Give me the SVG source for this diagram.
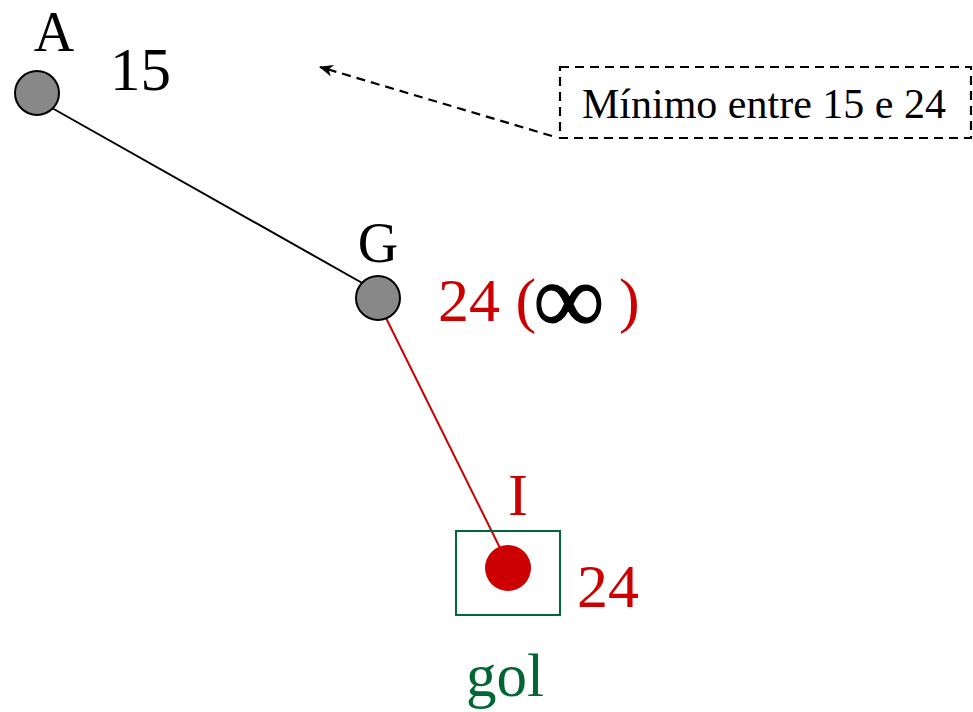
<svg xmlns="http://www.w3.org/2000/svg" width="973" height="712" viewBox="0 0 973 712">
<style>
.t{font-family:'Liberation Serif','DejaVu Serif',serif}
.node{fill:#888;stroke:#000;stroke-width:2}
.red{fill:#cc0000}
.grn{fill:#006633}
</style>
<defs>
<marker id="ah" viewBox="0 0 14 12" refX="13" refY="6" markerWidth="14" markerHeight="12" markerUnits="userSpaceOnUse" orient="auto">
<path d="M0,0 L14,6 L0,12 L4,6 Z" fill="#000"/>
</marker>
</defs>
<rect width="973" height="712" fill="#fff"/>
<g id="connectors">
<line x1="52" y1="108" x2="364" y2="284" stroke="#000" stroke-width="2"/>
<line x1="386" y1="318" x2="500" y2="548" stroke="#cc0000" stroke-width="2"/>
<line x1="552" y1="136" x2="320" y2="67" stroke="#000" stroke-width="2.2" stroke-dasharray="9,6" marker-end="url(#ah)"/>
</g>
<g id="A">
<circle class="node" cx="37" cy="93" r="22"/>
<text class="t" x="54" y="51" text-anchor="middle" font-size="56">A</text>
<text class="t" x="110" y="90" font-size="61">15</text>
</g>
<g id="G">
<circle class="node" cx="378" cy="298" r="22"/>
<text class="t" x="378" y="262" text-anchor="middle" font-size="56">G</text>
<text class="t red" x="438" y="321" font-size="62">24 (</text>
<text class="t" x="569" y="333" text-anchor="middle" font-size="100" stroke="#000" stroke-width="1.2">∞</text>
<text class="t red" x="619" y="321" font-size="62">)</text>
</g>
<g id="I">
<rect x="456" y="531" width="104" height="84" fill="none" stroke="#006633" stroke-width="2"/>
<circle cx="508" cy="568" r="23" fill="#cc0000"/>
<text class="t red" x="518" y="515" text-anchor="middle" font-size="60">I</text>
<text class="t red" x="577" y="607" font-size="62">24</text>
<text class="t grn" x="505" y="696" text-anchor="middle" font-size="61">gol</text>
</g>
<g id="note">
<rect x="560" y="67" width="411" height="71" fill="none" stroke="#000" stroke-width="2.2" stroke-dasharray="9,6"/>
<text class="t" x="582" y="118" font-size="42">Mínimo entre 15 e 24</text>
</g>
</svg>
